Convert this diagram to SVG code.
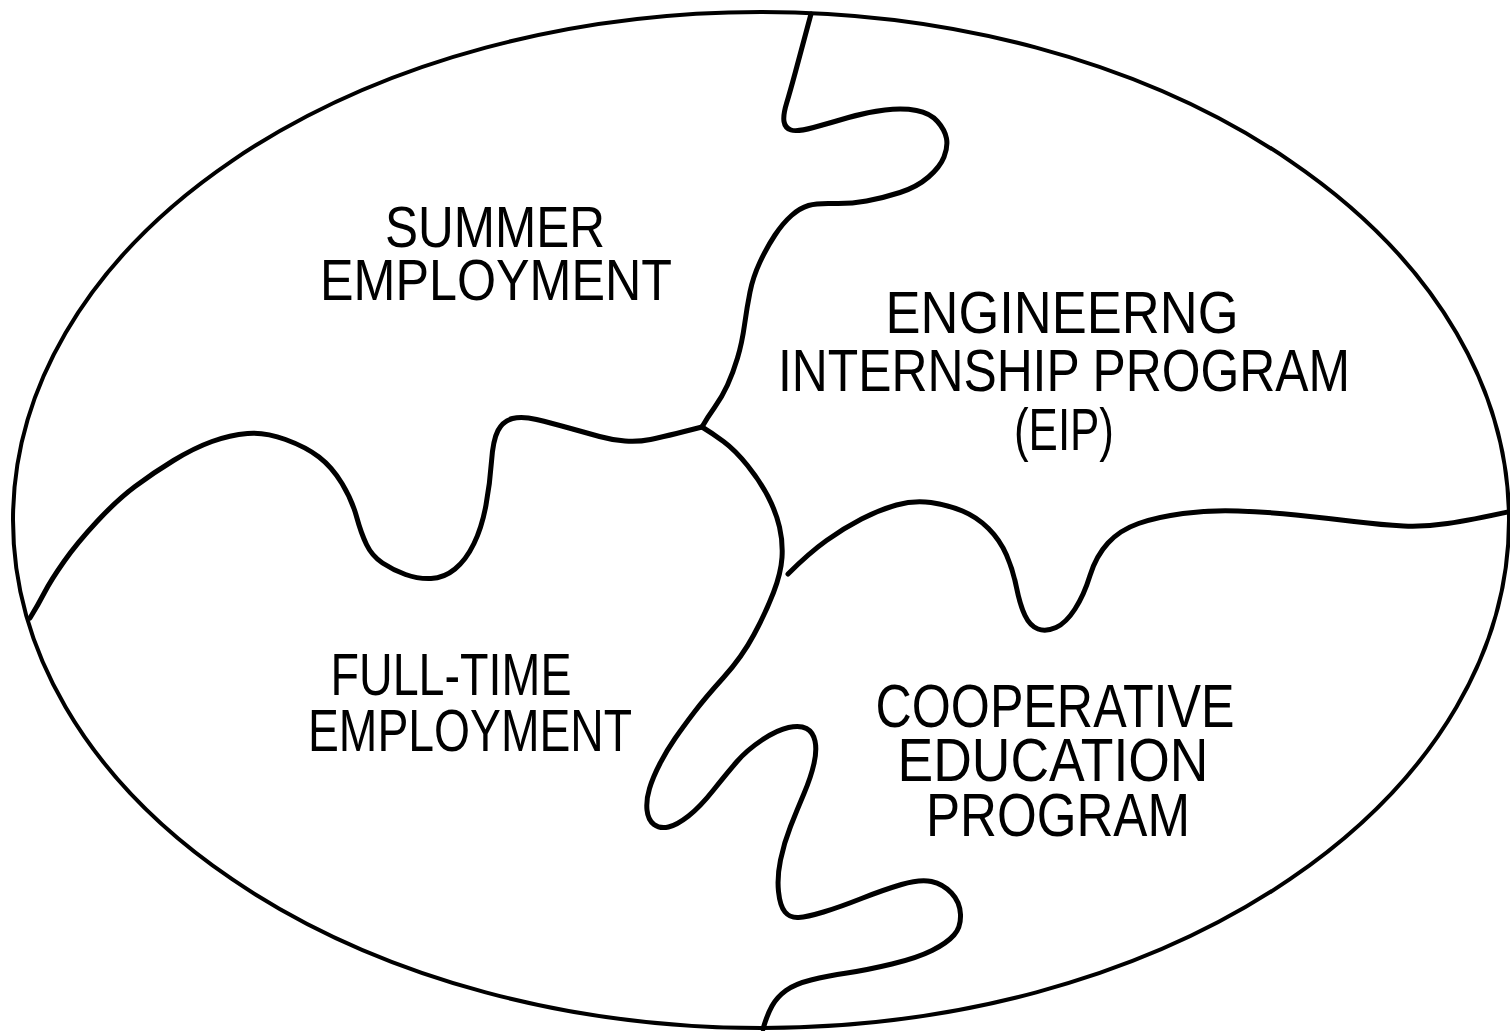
<svg xmlns="http://www.w3.org/2000/svg" width="1510" height="1031" viewBox="0 0 1510 1031">
  <style>
    .outline { fill: none; stroke: #000; stroke-width: 4; }
    .border { fill: none; stroke: #000; stroke-width: 5; stroke-linecap: round; stroke-linejoin: round; }
    .label { font-family: "Liberation Sans", Arial, sans-serif; fill: #000; text-anchor: middle; }
  </style>
  <rect width="1510" height="1031" fill="#fff"/>

  <!-- outer oval -->
  <g id="frame">
    <ellipse class="outline" cx="761" cy="520" rx="748" ry="508"/>
  </g>

  <!-- wavy borders splitting the oval into four areas -->
  <g id="connectors">
    <path class="border" d="M811,14 Q800,55 795,73.5 Q790,92 786.5,103.5 Q783,115 784,121.5 Q785,128 791,130 Q797,132 813.5,127.5 Q830,123 848.5,117.5 Q867,112 885,110 Q903,108 916.5,110.5 Q930,113 937.5,121.5 Q945,130 946.5,138.5 Q948,147 944,157 Q940,167 928.5,177 Q917,187 900,192.5 Q883,198 866.5,201 Q850,204 833.5,203.5 Q817,203 808.5,205.5 Q800,208 791.5,215.5 Q783,223 775,235 Q767,247 760,262 Q753,277 750,292 Q747,307 744.5,325 Q742,343 737.5,358 Q733,373 727.5,385 Q722,397 714.5,407.5 Q707,418 702,427"/>
    <path class="border" d="M702,427 Q663,437 650.5,439.5 Q638,442 625,441 Q612,440 599.5,436.5 Q587,433 569,428 Q551,423 536.5,419.5 Q522,416 512.5,418.5 Q503,421 498,430.5 Q493,440 491.5,461.5 Q490,483 486,505 Q482,527 474,543.5 Q466,560 455,569 Q444,578 431,578.5 Q418,579 405.5,574.5 Q393,570 382.5,563 Q372,556 366.5,544.5 Q361,533 356.5,516.5 Q352,500 342,483.5 Q332,467 319,457 Q306,447 285.5,439.5 Q265,432 247.5,433.5 Q230,435 212,441.5 Q194,448 173.5,460.5 Q153,473 135,486.5 Q117,500 97,521.5 Q77,543 64,561.5 Q51,580 44.5,592.5 Q38,605 30,618"/>
    <path class="border" d="M702,427 Q712,433 723.5,441.5 Q735,450 747.5,465.5 Q760,481 768,496.5 Q776,512 779.5,527 Q783,542 782,557.5 Q781,573 773.5,592.5 Q766,612 754,634.5 Q742,657 723.5,677.5 Q705,698 694,712.5 Q683,727 675,738.5 Q667,750 660,763.5 Q653,777 649.5,788.5 Q646,800 647,810 Q648,820 654,824.5 Q660,829 668.5,827 Q677,825 688.5,816 Q700,807 713.5,790 Q727,773 737,761.5 Q747,750 762,740 Q777,730 788.5,727.5 Q800,725 806.5,728.5 Q813,732 815,741 Q817,750 814,763.5 Q811,777 804,793.5 Q797,810 790.5,826.5 Q784,843 780.5,860 Q777,877 778.5,891.5 Q780,906 785,912 Q790,918 798.5,917.5 Q807,917 823.5,912 Q840,907 861.5,898.5 Q883,890 901.5,884.5 Q920,879 931.5,881.5 Q943,884 951.5,893 Q960,902 960.5,914.5 Q961,927 954,935 Q947,943 932,950.5 Q917,958 892,964 Q867,970 847,973 Q827,976 811,980 Q795,984 786,990.5 Q777,997 772,1006 Q767,1015 763,1029"/>
    <path class="border" d="M788,574 Q809,553 826.5,540.5 Q844,528 861.5,519 Q879,510 896.5,505 Q914,500 931,502.5 Q948,505 962.5,511 Q977,517 988.5,528.5 Q1000,540 1006.5,555 Q1013,570 1016.5,587.5 Q1020,605 1025,615.5 Q1030,626 1038,629 Q1046,632 1056,627.5 Q1066,623 1075,609 Q1084,595 1090,575.5 Q1096,556 1108,543 Q1120,530 1138.5,523.5 Q1157,517 1183,513.5 Q1209,510 1238,511 Q1267,512 1296,515 Q1325,518 1354,521.5 Q1383,525 1403.5,526 Q1424,527 1447.5,523.5 Q1471,520 1512,511"/>
  </g>

  <g id="summer-employment">
    <text class="label" font-size="57" x="495" y="247" textLength="220" lengthAdjust="spacingAndGlyphs">SUMMER</text>
    <text class="label" font-size="57" x="496" y="300" textLength="352" lengthAdjust="spacingAndGlyphs">EMPLOYMENT</text>
  </g>

  <g id="engineering-internship">
    <text class="label" font-size="59" x="1062" y="333" textLength="353" lengthAdjust="spacingAndGlyphs">ENGINEERNG</text>
    <text class="label" font-size="59" x="1064" y="391" textLength="572" lengthAdjust="spacingAndGlyphs">INTERNSHIP PROGRAM</text>
    <text class="label" font-size="59" x="1064" y="450" textLength="100" lengthAdjust="spacingAndGlyphs">(EIP)</text>
  </g>

  <g id="full-time-employment">
    <text class="label" font-size="60" x="451" y="695" textLength="241" lengthAdjust="spacingAndGlyphs">FULL-TIME</text>
    <text class="label" font-size="60" x="470" y="751" textLength="324" lengthAdjust="spacingAndGlyphs">EMPLOYMENT</text>
  </g>

  <g id="cooperative-education">
    <text class="label" font-size="62" x="1055" y="727" textLength="359" lengthAdjust="spacingAndGlyphs">COOPERATIVE</text>
    <text class="label" font-size="62" x="1053" y="781" textLength="311" lengthAdjust="spacingAndGlyphs">EDUCATION</text>
    <text class="label" font-size="62" x="1058" y="836" textLength="264" lengthAdjust="spacingAndGlyphs">PROGRAM</text>
  </g>
</svg>
